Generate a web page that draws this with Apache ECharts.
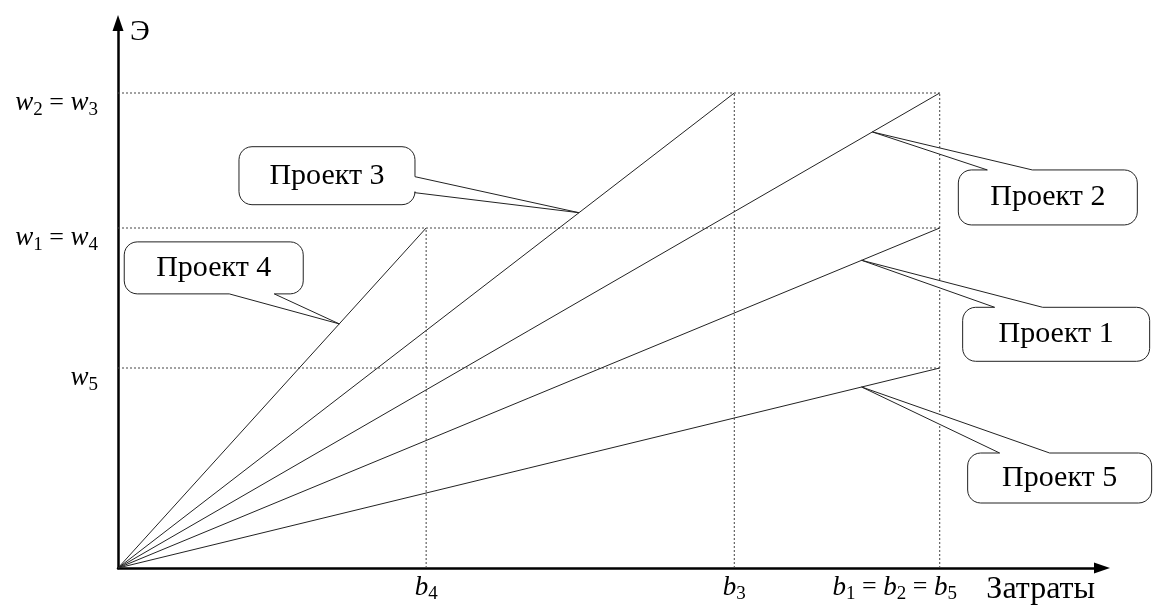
<!DOCTYPE html>
<html>
<head>
<meta charset="utf-8">
<title>Проекты: затраты и эффект</title>
<script src="https://cdn.jsdelivr.net/npm/echarts@6/dist/echarts.min.js"></script>
<style>
  html, body { margin: 0; padding: 0; background: #fff; }
  #chart { width: 1154px; height: 605px; }
</style>
</head>
<body>
<div id="chart"></div>
<script>
// каждый проект: затраты b (ось X) и эффект w (ось Y)
const projectNames = ['Проект 1', 'Проект 2', 'Проект 3', 'Проект 4', 'Проект 5'];
const projectCost = [8, 8, 6, 3, 8];
const projectEffect = [3.4, 4.75, 4.75, 3.4, 2];

const xTickValues = [3, 6, 8];
const xTickLabels = ['b4', 'b3', 'b1 = b2 = b5'];
const yTickValues = [2, 3.4, 4.75];
const yTickLabels = ['w5', 'w1 = w4', 'w2 = w3'];

const xAxisName = 'Затраты';
const yAxisName = 'Э';

const fontFamily = '"Liberation Serif", "DejaVu Serif", serif';
const axisColor = '#000';
const lineColor = '#222';
const guideColor = '#444';

// выноски: доля длины линии, куда указывает хвост, и смещение рамки от этой точки (px)
const callouts = [
  { at: 0.905, dx: 101, dy: 47, w: 187, h: 54, side: 'top', a: 32, b: 80 },
  { at: 0.918, dx: 86, dy: 38, w: 179, h: 55, side: 'top', a: 29, b: 74 },
  { at: 0.748, dx: -340, dy: -66, w: 176, h: 58, side: 'right', a: 30, b: 46 },
  { at: 0.718, dx: -215, dy: -82, w: 179, h: 52, side: 'bottom', a: 105, b: 150 },
  { at: 0.905, dx: 106, dy: 66, w: 184, h: 50, side: 'top', a: 32, b: 82 }
];

const richStyles = {
  i: { fontFamily: fontFamily, fontStyle: 'italic', fontSize: 27, color: '#000' },
  s: { fontFamily: fontFamily, fontSize: 19, color: '#000', padding: [14, 0, 0, 0] },
  n: { fontFamily: fontFamily, fontSize: 26, color: '#000' },
  pad: { width: 90 }
};

// "w2 = w3" -> rich text with italic letter and subscript digit
function toRich(label) {
  return label.split(' = ').map((part) => part.replace(/([a-z])(\d)/, '{i|$1}{s|$2}')).join('{n| = }');
}

function arc(cx, cy, r, a0, a1, out) {
  const n = 6;
  for (let k = 0; k <= n; k++) {
    const t = ((a0 + ((a1 - a0) * k) / n) * Math.PI) / 180;
    out.push([cx + r * Math.cos(t), cy + r * Math.sin(t)]);
  }
}

// rounded box with a tail going to the tip point
function bubble(x0, y0, x1, y1, r, c, tip) {
  const pts = [];
  arc(x0 + r, y0 + r, r, 180, 270, pts);
  if (c.side === 'top') pts.push([x0 + c.a, y0], tip, [x0 + c.b, y0]);
  arc(x1 - r, y0 + r, r, 270, 360, pts);
  if (c.side === 'right') pts.push([x1, y0 + c.a], tip, [x1, y0 + c.b]);
  arc(x1 - r, y1 - r, r, 0, 90, pts);
  if (c.side === 'bottom') pts.push([x0 + c.b, y1], tip, [x0 + c.a, y1]);
  arc(x0 + r, y1 - r, r, 90, 180, pts);
  return pts;
}

const series = [];

// пунктирные вспомогательные линии
function guide(data) {
  return {
    type: 'line',
    data: data,
    silent: true,
    showSymbol: false,
    lineStyle: { color: guideColor, width: 1, type: [2, 2] },
    z: 1
  };
}
xTickValues.forEach((b) => {
  const top = Math.max(...projectEffect.filter((w, i) => projectCost[i] === b));
  series.push(guide([[b, 0], [b, top]]));
});
yTickValues.forEach((w) => {
  const right = Math.max(...projectCost.filter((b, i) => projectEffect[i] === w));
  series.push(guide([[0, w], [right, w]]));
});

// линии проектов из начала координат
projectNames.forEach((name, i) => {
  series.push({
    name: name,
    type: 'line',
    data: [[0, 0], [projectCost[i], projectEffect[i]]],
    silent: true,
    showSymbol: false,
    lineStyle: { color: lineColor, width: 1 },
    z: 2
  });
});

// выноски с подписями
series.push({
  type: 'custom',
  clip: false,
  silent: true,
  z: 5,
  dimensions: ['x', 'y', 'idx'],
  encode: { x: 0, y: 1 },
  data: projectNames.map((name, i) => [projectCost[i] * callouts[i].at, projectEffect[i] * callouts[i].at, i]),
  renderItem: function (params, api) {
    const i = api.value(2);
    const c = callouts[i];
    const tip = api.coord([api.value(0), api.value(1)]);
    const x0 = tip[0] + c.dx;
    const y0 = tip[1] + c.dy;
    const x1 = x0 + c.w;
    const y1 = y0 + c.h;
    return {
      type: 'group',
      children: [
        {
          type: 'polygon',
          shape: { points: bubble(x0, y0, x1, y1, 13, c, tip) },
          style: { fill: '#fff', stroke: '#222', lineWidth: 1 }
        },
        {
          type: 'text',
          style: {
            text: projectNames[i],
            x: (x0 + x1) / 2,
            y: (y0 + y1) / 2,
            align: 'center',
            verticalAlign: 'middle',
            fontFamily: fontFamily,
            fontSize: 30,
            fill: '#000'
          }
        }
      ]
    };
  }
});

const chart = echarts.init(document.getElementById('chart'));
chart.setOption({
  animation: false,
  backgroundColor: '#fff',
  grid: { left: 118, right: 52, top: 23, bottom: 37, outerBoundsMode: 'none' },
  xAxis: {
    type: 'value',
    min: 0,
    max: 9.58,
    name: xAxisName,
    nameLocation: 'end',
    nameGap: -7,
    nameMoveOverlap: false,
    nameTextStyle: {
      fontFamily: fontFamily,
      fontSize: 32,
      color: '#000',
      align: 'right',
      verticalAlign: 'top',
      padding: [6, 0, 0, 0]
    },
    axisLine: {
      show: true,
      symbol: ['none', 'triangle'],
      symbolSize: [11, 16],
      lineStyle: { color: axisColor, width: 2.5 }
    },
    axisTick: { show: false },
    splitLine: { show: false },
    axisLabel: {
      customValues: xTickValues,
      margin: 3,
      rich: richStyles,
      formatter: function (value) {
        const k = xTickValues.indexOf(value);
        if (k < 0) return '';
        const txt = toRich(xTickLabels[k]);
        return k === xTickValues.length - 1 ? txt + '{pad| }' : txt;
      }
    }
  },
  yAxis: {
    type: 'value',
    min: 0,
    max: 5.45,
    name: yAxisName,
    nameLocation: 'end',
    nameGap: -9,
    nameMoveOverlap: false,
    nameTextStyle: {
      fontFamily: fontFamily,
      fontSize: 30,
      color: '#000',
      align: 'left',
      verticalAlign: 'middle',
      padding: [0, 0, 0, 12]
    },
    axisLine: {
      show: true,
      symbol: ['none', 'triangle'],
      symbolSize: [11, 16],
      lineStyle: { color: axisColor, width: 2.5 }
    },
    axisTick: { show: false },
    splitLine: { show: false },
    axisLabel: {
      customValues: yTickValues,
      margin: 20,
      padding: [20, 0, 0, 0],
      rich: richStyles,
      formatter: function (value) {
        const k = yTickValues.indexOf(value);
        return k < 0 ? '' : toRich(yTickLabels[k]);
      }
    }
  },
  series: series
});
</script>
</body>
</html>
